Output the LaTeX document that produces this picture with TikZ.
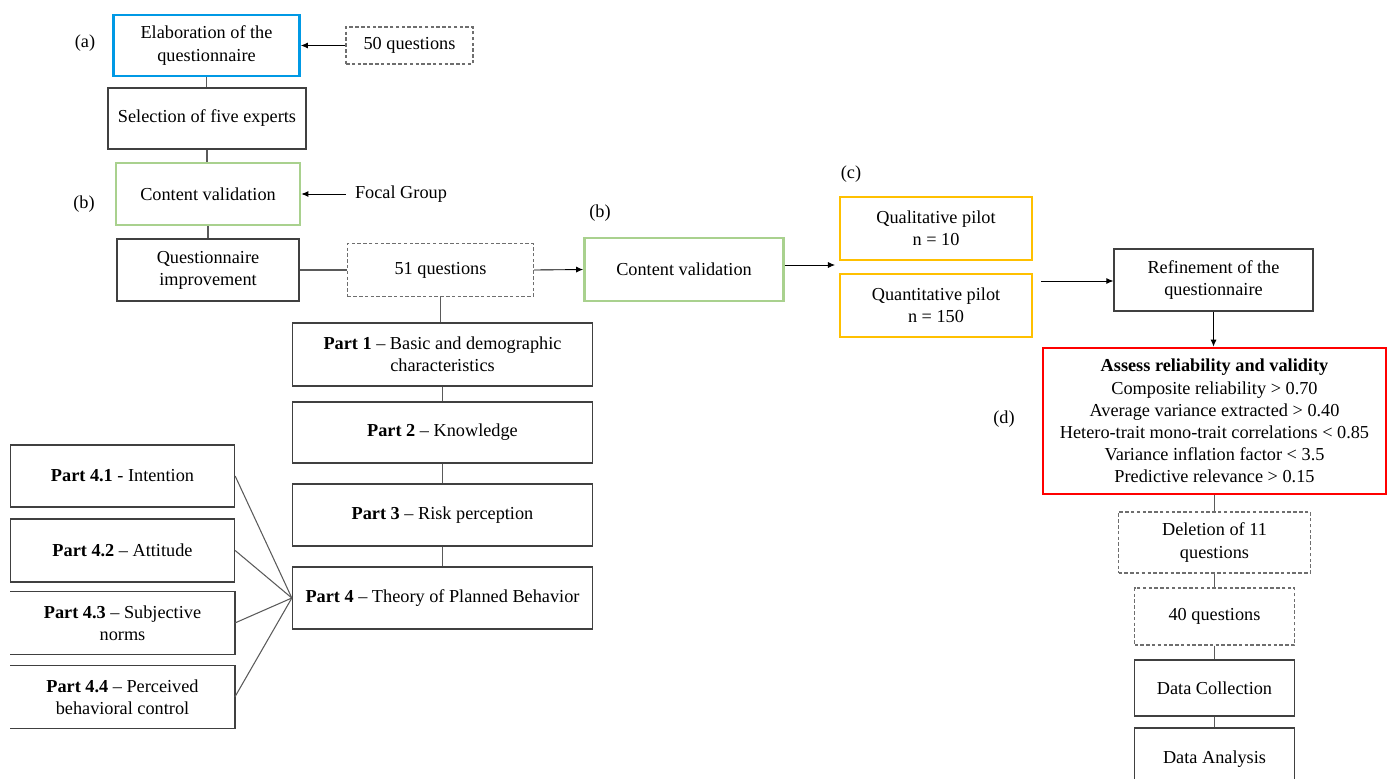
\documentclass[tikz,border=0pt]{standalone}
\usepackage{fontspec}
\setmainfont{Liberation Serif}
\usetikzlibrary{arrows.meta}
\definecolor{bblue}{RGB}{0,153,229}
\definecolor{bgreen}{RGB}{169,209,142}
\definecolor{borange}{RGB}{255,192,0}
\definecolor{bred}{RGB}{255,0,0}
\definecolor{bline}{RGB}{64,64,64}
\definecolor{cline}{RGB}{90,90,90}
\definecolor{dline}{RGB}{110,110,110}
\begin{document}
\begin{tikzpicture}[x=0.02cm,y=-0.02cm,
  font=\fontsize{10.4}{12.6}\selectfont,
  base/.style={align=center, inner sep=0pt, text=black},
  plain/.style={base, draw=bline, line width=0.75pt},
  dbox/.style={base, draw=dline, line width=0.7pt, dash pattern=on 2pt off 1.3pt},
  bluebox/.style={base, draw=bblue, line width=1.6pt},
  greenbox/.style={base, draw=bgreen, line width=1.6pt},
  orangebox/.style={base, draw=borange, line width=1.6pt},
  redbox/.style={base, draw=bred, line width=1.6pt},
  sz/.style 2 args={minimum width=#1*0.02cm, minimum height=#2*0.02cm},
  conn/.style={draw=cline, line width=0.6pt},
  arr/.style={draw=black, line width=0.5pt, -{Latex[length=4pt,width=3.5pt]}},
  lbl/.style={base}
]
\useasboundingbox (0,0) rectangle (1390,778);
\clip (0,0) rectangle (1390,778);

% left column
\node[bluebox, sz={186}{61}] (elab) at (206.5,45.5) {Elaboration of the\\questionnaire};
\node[dbox, sz={127}{37}] (q50) at (409.5,45.5) {50 questions};
\node[plain, sz={198}{61}] (sel) at (207,118.5) {Selection of five experts};
\node[greenbox, sz={184}{62}] (cv1) at (208,194) {Content validation};
\node[base, inner xsep=5.1pt] (focal) at (401,194) {Focal Group};
\node[plain, sz={182}{62}] (qi) at (208,270) {Questionnaire\\improvement};
\node[dbox, sz={186}{53}] (q51) at (440.5,270) {51 questions};

% labels
\node[lbl] (la) at (85,43) {(a)};
\node[lbl] (lb1) at (84,204) {(b)};
\node[lbl] (lb2) at (600,213) {(b)};
\node[lbl] (lc) at (851,174) {(c)};
\node[lbl] (ld) at (1004,419) {(d)};

% middle
\node[greenbox, sz={199}{63}] (cv2) at (684,269.5) {Content validation};
\node[orangebox, sz={192}{63}] (qual) at (936,228.5) {Qualitative pilot\\n = 10};
\node[orangebox, sz={192}{63}] (quant) at (936,305.5) {Quantitative pilot\\n = 150};

% right column
\node[plain, sz={199}{62}] (ref) at (1213.5,280) {Refinement of the\\questionnaire};
\node[redbox, sz={343}{146}] (assess) at (1214.5,421) {\textbf{Assess reliability and validity}\\Composite reliability > 0.70\\Average variance extracted > 0.40\\Hetero-trait mono-trait correlations < 0.85\\Variance inflation factor < 3.5\\Predictive relevance > 0.15};
\node[dbox, sz={192}{61}] (del) at (1214.5,542.5) {Deletion of 11\\questions};
\node[dbox, sz={160}{57}] (q40) at (1214.5,616.5) {40 questions};
\node[plain, sz={160}{56}] (dc) at (1214.5,688) {Data Collection};
\node[plain, sz={160}{62}] (da) at (1214.5,759) {Data Analysis};

% parts
\node[plain, sz={300}{63}] (p1) at (442.5,354.5) {\textbf{Part 1} – Basic and demographic\\characteristics};
\node[plain, sz={300}{61}] (p2) at (442.5,432.5) {\textbf{Part 2} – Knowledge};
\node[plain, sz={300}{62}] (p3) at (442.5,515) {\textbf{Part 3} – Risk perception};
\node[plain, sz={300}{62}] (p4) at (442.5,598) {\textbf{Part 4} – Theory of Planned Behavior};
\node[plain, sz={224}{62}] (p41) at (122.5,476) {\textbf{Part 4.1} - Intention};
\node[plain, sz={224}{63}] (p42) at (122.5,550.5) {\textbf{Part 4.2} – Attitude};
\node[base, sz={224}{62}] (p43) at (122.5,623) {\textbf{Part 4.3} – Subjective\\norms};
\node[base, sz={224}{62}] (p44) at (122.5,697) {\textbf{Part 4.4} – Perceived\\behavioral control};
\draw[bline, line width=0.75pt] (p43.north west) -- (p43.north east) -- (p43.south east) -- (p43.south west);
\draw[bline, line width=0.75pt] (p44.north west) -- (p44.north east) -- (p44.south east) -- (p44.south west);

% connectors
\draw[arr] (q50.west) -- (elab.east);
\draw[conn] (elab.south) -- (elab.south |- sel.north);
\draw[conn] (sel.south) -- (sel.south |- cv1.north);
\draw[arr] (focal.west) -- (cv1.east);
\draw[conn] (cv1.south) -- (cv1.south |- qi.north);
\draw[conn] (qi.east) -- (q51.west);
\draw[arr] (q51.east) -- (cv2.west);
\coordinate (pin) at (835,265);
\draw[arr] (cv2.east |- pin) -- (pin);
\coordinate (pout) at (1041,281);
\draw[arr] (pout) -- (pout -| ref.west);
\draw[arr] (ref.south) -- (ref.south |- assess.north);
\draw[conn] (assess.south) -- (assess.south |- del.north);
\draw[conn] (del.south) -- (del.south |- q40.north);
\draw[conn] (q40.south) -- (q40.south |- dc.north);
\draw[conn] (dc.south) -- (dc.south |- da.north);
\draw[conn] (q51.south) -- (q51.south |- p1.north);
\draw[conn] (p1.south) -- (p1.south |- p2.north);
\draw[conn] (p2.south) -- (p2.south |- p3.north);
\draw[conn] (p3.south) -- (p3.south |- p4.north);
\draw[conn] (p41.east) -- (p4.west);
\draw[conn] (p42.east) -- (p4.west);
\draw[conn] (p43.east) -- (p4.west);
\draw[conn] (p44.east) -- (p4.west);
\end{tikzpicture}
\end{document}
